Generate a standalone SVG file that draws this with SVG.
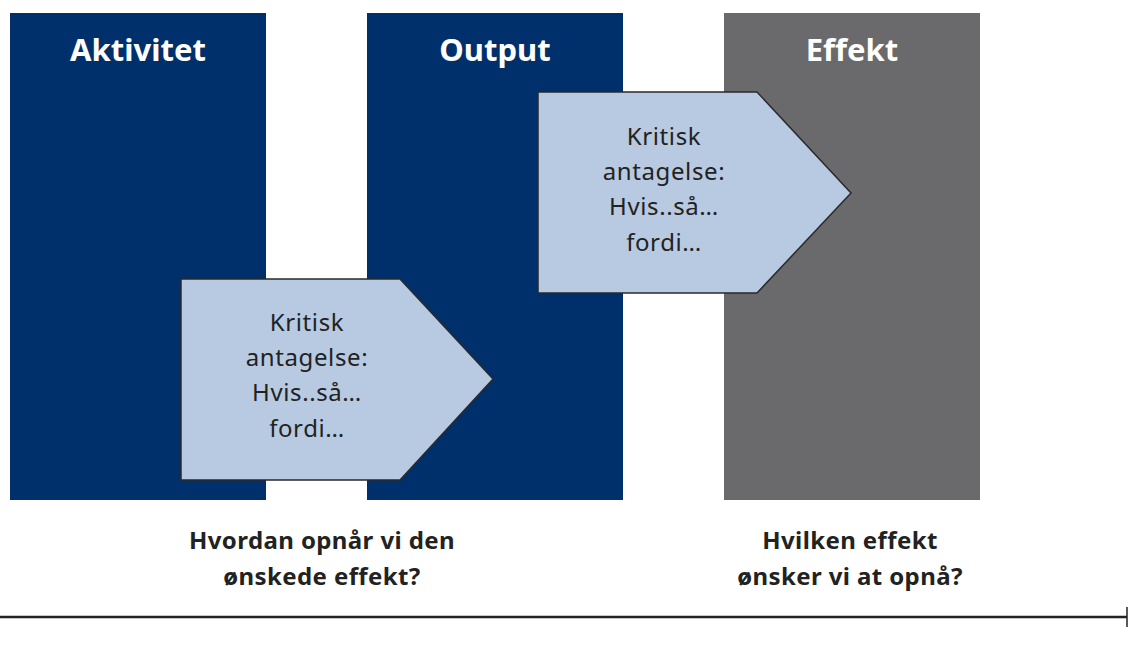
<svg xmlns="http://www.w3.org/2000/svg" width="1128" height="669" viewBox="0 0 1128 669">
<style>
.col{stroke:none}
.title{font-family:"Noto Sans","Open Sans",sans-serif;font-weight:bold;font-size:31px;fill:#fff;text-anchor:middle}
.arrow{fill:#B8CAE1;stroke:#2a2a2a;stroke-width:1.5}
.atxt{font-family:"Noto Sans","Open Sans",sans-serif;font-size:24px;letter-spacing:0.6px;fill:#222;text-anchor:middle}
.q{font-family:"Noto Sans","Open Sans",sans-serif;font-weight:bold;font-size:24px;letter-spacing:0.4px;fill:#222;text-anchor:middle}
</style>
<rect width="1128" height="669" fill="#fff"/>
<g id="aktivitet"><rect class="col" x="10" y="13" width="256" height="487" fill="#00306B"/><text class="title" x="138" y="61">Aktivitet</text></g>
<g id="output"><rect class="col" x="367" y="13" width="256" height="487" fill="#00306B"/><text class="title" x="495" y="61">Output</text></g>
<g id="effekt"><rect class="col" x="724" y="13" width="256" height="487" fill="#6A6A6C"/><text class="title" x="852" y="61">Effekt</text></g>
<g id="antagelse1"><polygon class="arrow" points="181,279 400,279 493,379 400,480 181,480"/>
<text class="atxt" x="307" y="331">Kritisk</text><text class="atxt" x="307" y="366">antagelse:</text><text class="atxt" x="307" y="401">Hvis..så…</text><text class="atxt" x="307" y="437">fordi…</text></g>
<g id="antagelse2"><polygon class="arrow" points="538,92 757,92 851,193 757,293 538,293"/>
<text class="atxt" x="664" y="145">Kritisk</text><text class="atxt" x="664" y="180">antagelse:</text><text class="atxt" x="664" y="215">Hvis..så…</text><text class="atxt" x="664" y="251">fordi…</text></g>
<g id="q1"><text class="q" x="322" y="549">Hvordan opnår vi den</text><text class="q" x="322" y="585">ønskede effekt?</text></g>
<g id="q2"><text class="q" x="850" y="549">Hvilken effekt</text><text class="q" x="850" y="585">ønsker vi at opnå?</text></g>
<g id="connectors"><line x1="0" y1="617" x2="1127" y2="617" stroke="#222" stroke-width="2.5"/><line x1="1127" y1="607" x2="1127" y2="627" stroke="#222" stroke-width="1.5"/></g>
</svg>
